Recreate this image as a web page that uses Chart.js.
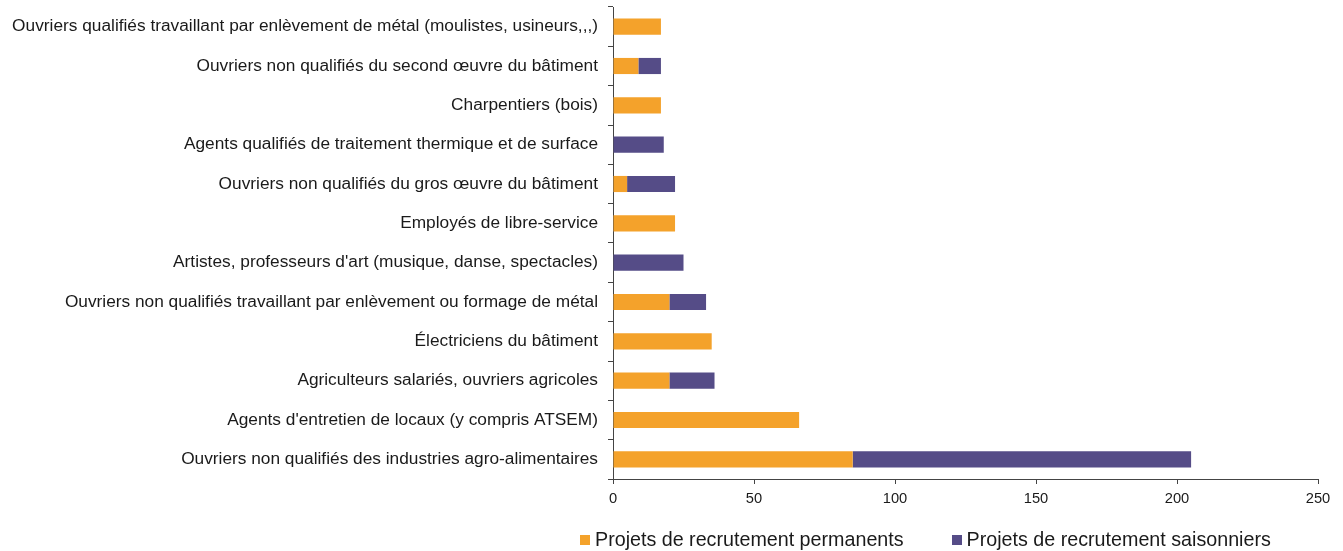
<!DOCTYPE html>
<html>
<head>
<meta charset="utf-8">
<script src="https://cdn.jsdelivr.net/npm/chart.js@4"></script>
<style>
  html, body { margin: 0; padding: 0; background: #fff; }
  #wrap { position: relative; width: 1343px; height: 551px; }
  #legend {
    position: absolute; left: 580px; top: 528px;
    font: 19.7px "Liberation Sans", Arial, sans-serif; color: #1a1a1a;
    display: flex; align-items: center; white-space: nowrap;
  }
  #legend .item { display: flex; align-items: center; }
  #legend .item + .item { margin-left: 48px; }
  #legend .box { width: 10px; height: 10px; margin-right: 5px; }
</style>
</head>
<body>
<div id="wrap">
  <canvas id="chart" width="1343" height="551"></canvas>
  <div id="legend"></div>
</div>
<script>
// categories, top to bottom
const categories = [
  "Ouvriers qualifiés travaillant par enlèvement de métal (moulistes, usineurs,,,)",
  "Ouvriers non qualifiés du second œuvre du bâtiment",
  "Charpentiers (bois)",
  "Agents qualifiés de traitement thermique et de surface",
  "Ouvriers non qualifiés du gros œuvre du bâtiment",
  "Employés de libre-service",
  "Artistes, professeurs d'art (musique, danse, spectacles)",
  "Ouvriers non qualifiés travaillant par enlèvement ou formage de métal",
  "Électriciens du bâtiment",
  "Agriculteurs salariés, ouvriers agricoles",
  "Agents d'entretien de locaux (y compris ATSEM)",
  "Ouvriers non qualifiés des industries agro-alimentaires"
];
const permanents = [17, 9, 17, 0, 5, 22, 0, 20, 35, 20, 66, 85];
const saisonniers = [0, 8, 0, 18, 17, 0, 25, 13, 0, 16, 0, 120];
const seriesNames = ["Projets de recrutement permanents", "Projets de recrutement saisonniers"];
const xTicks = [0, 50, 100, 150, 200, 250];

const colors = ["#F4A22B", "#554C87"];

// html legend
const legendEl = document.getElementById("legend");
seriesNames.forEach((name, i) => {
  const item = document.createElement("span");
  item.className = "item";
  item.innerHTML = `<span class="box" style="background:${colors[i]}"></span><span>${name}</span>`;
  legendEl.appendChild(item);
});

const font = { family: "'Liberation Sans', Arial, sans-serif" };

new Chart(document.getElementById("chart"), {
  type: "bar",
  data: {
    labels: categories,
    datasets: [
      { label: seriesNames[0], data: permanents, backgroundColor: colors[0], borderWidth: 0 },
      { label: seriesNames[1], data: saisonniers, backgroundColor: colors[1], borderWidth: 0 }
    ]
  },
  options: {
    indexAxis: "y",
    responsive: false,
    animation: false,
    layout: { padding: { top: 7, right: 25, left: 0, bottom: 0 } },
    datasets: { bar: { categoryPercentage: 1, barPercentage: 0.41 } },
    plugins: { legend: { display: false }, tooltip: { enabled: false } },
    scales: {
      x: {
        stacked: true,
        min: 0, max: 250,
        afterBuildTicks: s => { s.ticks = xTicks.map(v => ({ value: v })); },
        grid: { drawOnChartArea: false, tickLength: 5, color: "#444" },
        border: { color: "#444", width: 1 },
        ticks: { color: "#1a1a1a", padding: 6, font: { ...font, size: 14.7 } },
        afterFit: s => { s.height = 72; s.paddingLeft = 0; s.paddingRight = 0; }
      },
      y: {
        stacked: true,
        grid: { drawOnChartArea: false, tickLength: 5, offset: true, color: "#444" },
        border: { color: "#444", width: 1 },
        ticks: { color: "#1a1a1a", padding: 10, font: { ...font, size: 17.3 }, autoSkip: false },
        afterFit: s => { s.width = 613; s.paddingTop = 0; s.paddingBottom = 0; }
      }
    }
  }
});
</script>
</body>
</html>
